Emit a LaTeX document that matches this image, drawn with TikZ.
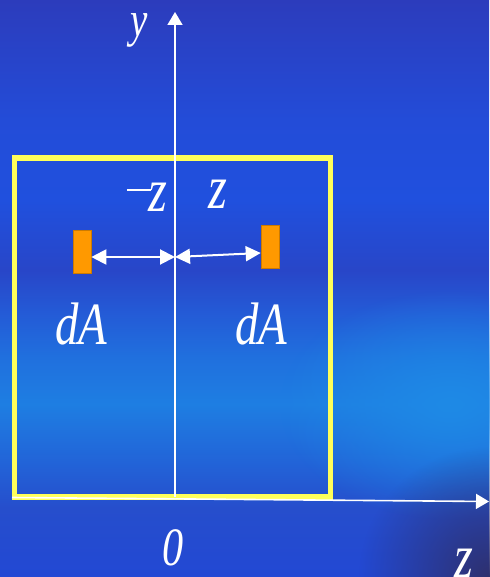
\documentclass[tikz,border=0pt]{standalone}
\usepackage{fontspec}
\setmainfont{Liberation Serif}
\usetikzlibrary{arrows.meta,positioning,calc,fadings}
\definecolor{frame}{RGB}{255,255,90}
\definecolor{patch}{RGB}{255,153,0}
\definecolor{glow}{RGB}{30,138,230}
\definecolor{corner}{RGB}{46,48,110}
\definecolor{bga}{RGB}{34,72,212}
\definecolor{bgb}{RGB}{38,78,204}
\definecolor{bgc}{RGB}{34,100,216}
\definecolor{bgd}{RGB}{30,126,226}
\definecolor{bge}{RGB}{32,112,222}
\definecolor{bgf}{RGB}{36,90,214}
\definecolor{bgg}{RGB}{40,70,200}
\definecolor{bgh}{RGB}{32,80,222}
\definecolor{bgi}{RGB}{35,76,216}
\definecolor{bgj}{RGB}{44,60,188}
\pgfdeclareverticalshading{slidebg}{100bp}{%
  color(0bp)=(bga); color(25bp)=(bga); color(31bp)=(bgb); color(35bp)=(bgc);
  color(40bp)=(bgd); color(44bp)=(bge); color(48bp)=(bgf); color(51.6bp)=(bgg);
  color(57.7bp)=(bgh); color(64.6bp)=(bgi); color(75bp)=(bgj); color(100bp)=(bgj)}
\tikzfading[name=softspot,inner color=transparent!0,outer color=transparent!100]
\newcommand{\narrow}[1]{\scalebox{0.78}[1]{#1}}
\begin{document}
\begin{tikzpicture}[x=0.5pt,y=-0.5pt,every node/.style={text=white,font=\itshape,inner sep=1pt},
  axis/.style={white,line width=0.8pt,-{Triangle[length=6.5pt,width=7.5pt]}},
  gap/.style={white,line width=1pt,{Triangle[length=7.5pt,width=7.5pt]}-{Triangle[length=7.5pt,width=7.5pt]}},
  patchbox/.style={fill=patch,draw=patch!80!black,line width=0.3pt,inner sep=0pt,minimum width=9pt,minimum height=21.5pt}]
  \useasboundingbox (0,0) rectangle (489,577);
  % background of the slide
  \shade[shading=slidebg] (0,0) rectangle (489,577);
  \fill[glow,path fading=softspot] (450,405) ellipse (170 and 115);
  \fill[corner,path fading=softspot] (489,577) circle (130);
  % axes and frame
  \coordinate (O) at (175,497); \coordinate (ytop) at (175,12);
  \coordinate (zleft) at (12,497.5); \coordinate (zend) at (489,501.5);
  \coordinate (mid) at (175,257);
  \draw[frame,line width=2.6pt] (14.5,158) rectangle (330.5,497);
  \draw[axis] (O) -- (ytop);
  \draw[axis] (zleft) -- (zend);
  % the two area elements
  \node[patchbox] (dAl) at (82,252) {};
  \node[patchbox] (dAr) at (270,247) {};
  \draw[gap] (dAl.east |- mid) -- (mid);
  \draw[gap] (mid) -- ($(dAr.west)+(0,6)$);
  % labels
  \node[font=\itshape\fontsize{25}{27}\selectfont] (ylab) at (139,30) {\narrow{y}};
  \node[font=\itshape\fontsize{31}{33}\selectfont] (zlab) at (464,563) {\narrow{z}};
  \node[font=\itshape\fontsize{27}{29}\selectfont] (olab) at (173,548) {\narrow{0}};
  \node[font=\itshape\fontsize{31}{33}\selectfont,anchor=base east,inner sep=0pt] (mzlab) at (168,212) {\rule[10.5pt]{12pt}{0.8pt}\hspace{-1pt}\narrow{z}};
  \node[font=\itshape\fontsize{31}{33}\selectfont] (pzlab) at (218,194) {\narrow{z}};
  \node[font=\itshape\fontsize{30}{32}\selectfont] (dAllab) at (81,324) {\narrow{dA}};
  \node[font=\itshape\fontsize{30}{32}\selectfont] (dArlab) at (261,324) {\narrow{dA}};
\end{tikzpicture}
\end{document}
